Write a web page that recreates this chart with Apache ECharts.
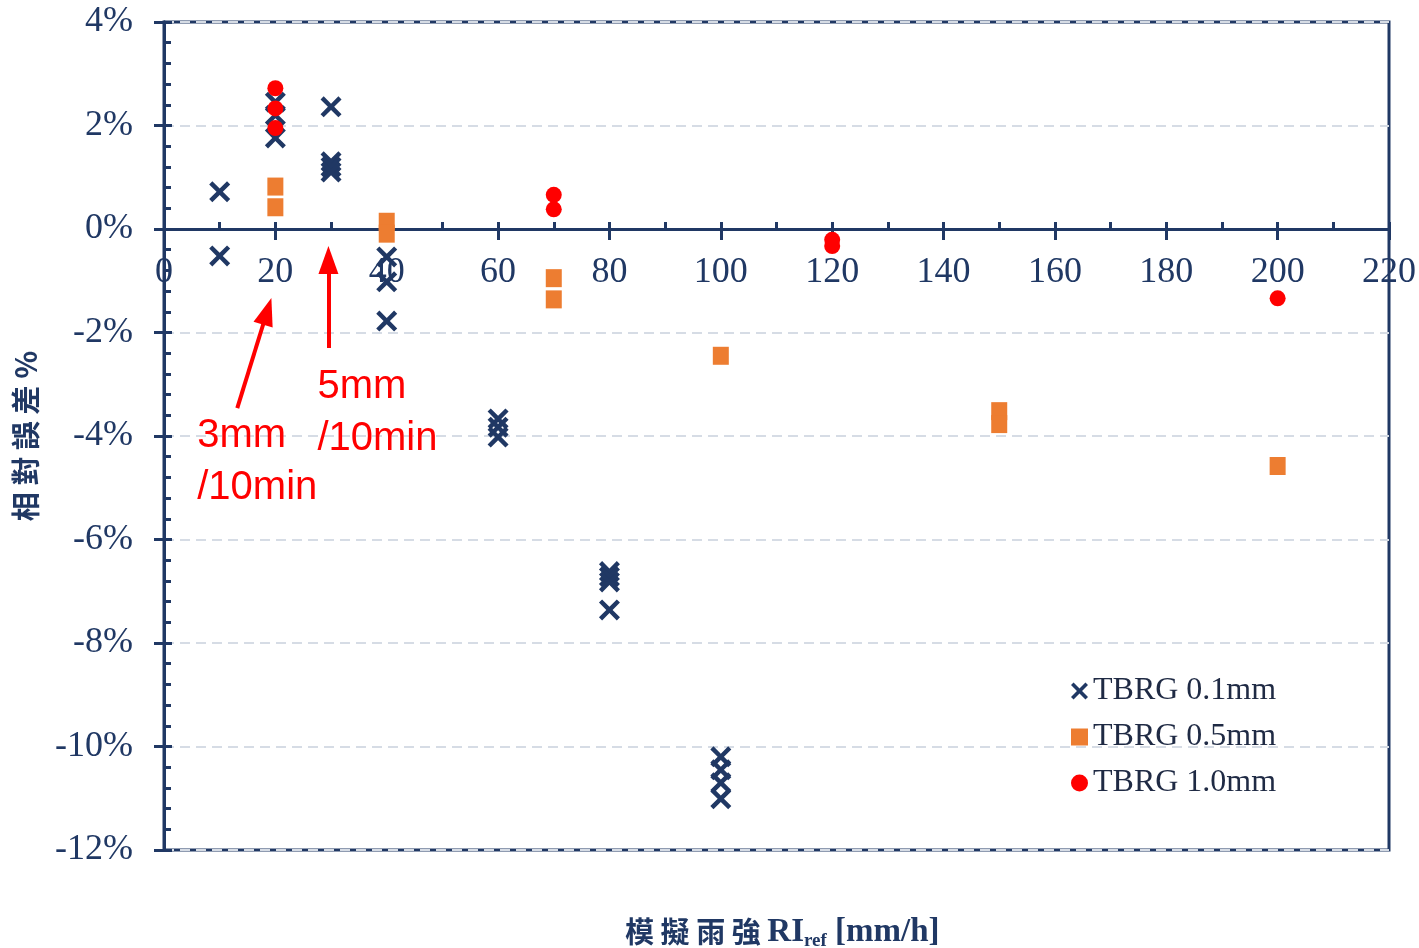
<!DOCTYPE html>
<html>
<head>
<meta charset="utf-8">
<script src="https://cdn.jsdelivr.net/npm/echarts@6/dist/echarts.min.js"></script>
<style>html,body{margin:0;padding:0;background:#fff;}#c{width:1419px;height:948px;}</style>
</head>
<body>
<div id="c"></div>
<script>
// ---- data (x: simulated rain intensity mm/h, y: relative error %) ----
const tbrg01 = [[10,0.72],[10,-0.52],[20,2.45],[20,2.2],[20,1.76],[30,2.36],[30,1.3],[30,1.2],[30,1.1],
  [40,-0.54],[40,-1.02],[40,-1.78],[60,-3.67],[60,-3.83],[60,-4.02],[80,-6.62],[80,-6.72],[80,-6.82],[80,-7.36],
  [100,-10.2],[100,-10.45],[100,-10.7],[100,-11.01]];
const tbrg05 = [[20,0.82],[20,0.42],[40,0.14],[40,-0.09],[70,-0.95],[70,-1.36],[100,-2.45],[150,-3.52],[150,-3.77],[200,-4.58]];
const tbrg10 = [[20,2.72],[20,2.33],[20,1.95],[70,0.66],[70,0.38],[120,-0.21],[120,-0.33],[200,-1.34]];
const seriesNames = ['TBRG 0.1mm','TBRG 0.5mm','TBRG 1.0mm'];
const xRange = [0, 220, 20];
const yRange = [-12, 4, 2];
const arrows = [ [[13.16,-3.46],[18.54,-1.59]], [[29.53,-2.30],[29.53,-0.60]] ];
const notes = [ {text:'3mm\n/10min', at:[5.97,-3.5]}, {text:'5mm\n/10min', at:[27.55,-2.55]} ];

const NAVY = '#203864';
const SERIF = '"Liberation Serif","DejaVu Serif",serif';
const CJK = '"Noto Sans CJK TC","Noto Sans CJK SC",sans-serif';
const crossPath = 'path://M3,0 L10,7 L17,0 L20,3 L13,10 L20,17 L17,20 L10,13 L3,20 L0,17 L7,10 L0,3 Z';

const chart = echarts.init(document.getElementById('c'));
const lineStyle = {color:NAVY, width:3};
const option = {
  animation:false,
  backgroundColor:'#fff',
  grid:{left:164, right:30, top:22, bottom:98, show:true, borderColor:NAVY, borderWidth:3, backgroundColor:'transparent', outerBoundsMode:'none', containLabel:false},
  title:{
    text:'{c|模 擬 雨 強 }{r|RI}{s|ref}{r| [mm/h]}',
    left:620, top:908,
    textStyle:{rich:{
      c:{fontFamily:CJK, fontWeight:'bold', fontSize:29, color:NAVY, lineHeight:38},
      r:{fontFamily:SERIF, fontWeight:'bold', fontSize:33, color:NAVY, lineHeight:38},
      s:{fontFamily:SERIF, fontWeight:'bold', fontSize:19, color:NAVY, lineHeight:38, verticalAlign:'bottom', padding:[13,0,0,0]}
    }}
  },
  legend:{
    data:seriesNames, orient:'vertical', left:1066, top:670, itemGap:14,
    itemWidth:17, itemHeight:17,
    textStyle:{fontFamily:SERIF, fontSize:32, color:'#1f2a44'}
  },
  xAxis:[
    {type:'value', min:xRange[0], max:xRange[1], interval:xRange[2], position:'bottom', offset:0,
     axisLine:{onZero:false, lineStyle:lineStyle},
     axisTick:{show:true, inside:false, length:11, lineStyle:lineStyle},
     axisLabel:{margin:26, fontFamily:SERIF, fontSize:36, color:NAVY},
     splitLine:{show:false}},
    {type:'value', min:xRange[0], max:xRange[1], interval:xRange[2], position:'bottom', offset:0,
     axisLine:{onZero:false, lineStyle:lineStyle},
     axisTick:{show:true, inside:true, length:7, lineStyle:lineStyle},
     minorTick:{show:true, splitNumber:2, length:7, lineStyle:lineStyle},
     axisLabel:{show:false}, splitLine:{show:false}}
  ],
  yAxis:[
    {type:'value', min:yRange[0], max:yRange[1], interval:yRange[2], position:'left',
     name:'相 對 誤 差 %', nameLocation:'middle', nameGap:124, nameRotate:90,
     nameTextStyle:{fontFamily:CJK, fontWeight:'bold', fontSize:29, color:NAVY},
     axisLine:{onZero:false, lineStyle:lineStyle},
     axisTick:{show:true, inside:false, length:10, lineStyle:lineStyle},
     axisLabel:{margin:31, fontFamily:SERIF, fontSize:36, color:NAVY, formatter:'{value}%'},
     splitLine:{show:true, lineStyle:{color:'#d6dce5', width:2, type:[10,6]}}},
    {type:'value', min:yRange[0], max:yRange[1], interval:yRange[2], position:'left',
     axisLine:{onZero:false, lineStyle:lineStyle},
     axisTick:{show:true, inside:true, length:8, lineStyle:lineStyle},
     minorTick:{show:true, splitNumber:5, length:7, lineStyle:lineStyle},
     axisLabel:{show:false}, splitLine:{show:false}}
  ],
  series:[
    {name:seriesNames[0], type:'scatter', data:tbrg01, symbol:crossPath, symbolSize:21, itemStyle:{color:NAVY, opacity:1}},
    {name:seriesNames[1], type:'scatter', data:tbrg05, symbol:'rect', symbolSize:[16,18], itemStyle:{color:'#ed7d31', opacity:1}},
    {name:seriesNames[2], type:'scatter', data:tbrg10, symbol:'circle', symbolSize:16, itemStyle:{color:'#ff0000', opacity:1}},
    {name:'annot', type:'scatter', data:[], silent:true,
     markLine:{silent:true, animation:false, label:{show:false},
       lineStyle:{color:'#ff0000', width:4, type:'solid'},
       data: arrows.map(a => [
         {coord:a[0], symbol:'none'},
         {coord:a[1], symbol:'triangle', symbolSize:[20,28]}
       ])}}
  ]
};
chart.setOption(option);
// move the x axis up to the 0% line (offset measured through the y scale)
const yZero = chart.convertToPixel({yAxisIndex:0}, 0);
const yBottom = chart.convertToPixel({yAxisIndex:0}, yRange[0]);
const off = yZero - yBottom;
const g = notes.map(n => {
  const p = chart.convertToPixel({xAxisIndex:0, yAxisIndex:0}, n.at);
  return {type:'text', x:p[0], y:p[1], style:{text:n.text, fontFamily:'"Liberation Sans",Arial,sans-serif', fontSize:40, lineHeight:52, fill:'#ff0000', align:'left', verticalAlign:'top'}};
});
chart.setOption({xAxis:[{offset:off},{offset:off}], graphic:g});
</script>
</body>
</html>
